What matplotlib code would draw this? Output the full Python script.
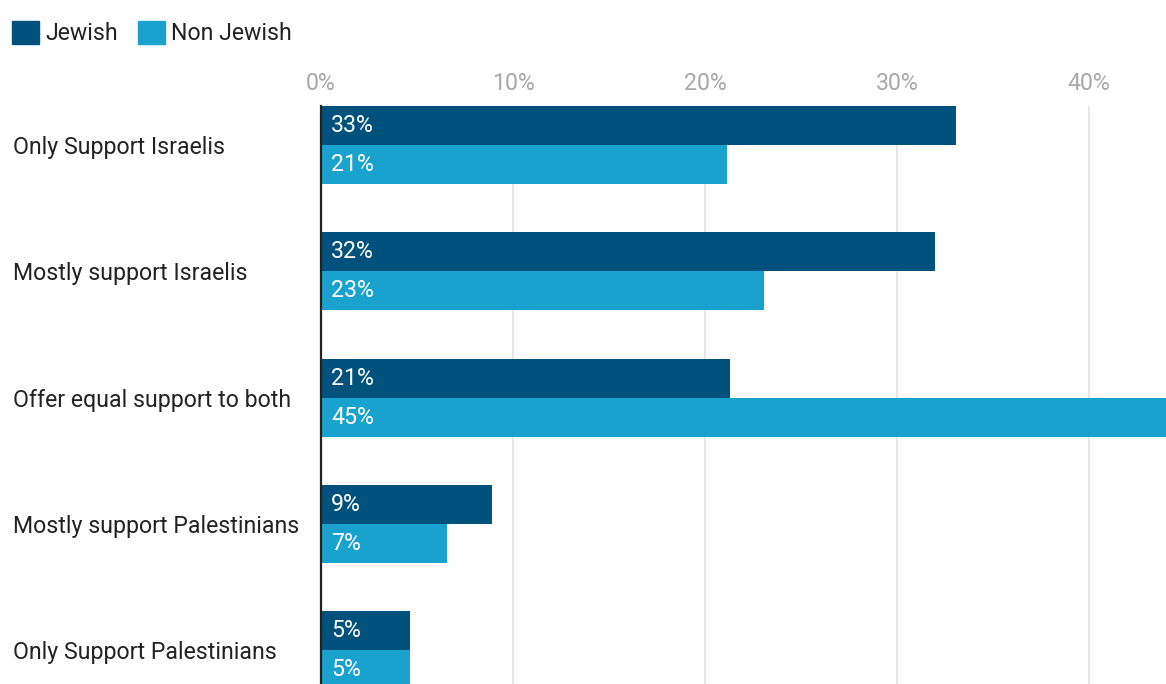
import matplotlib
matplotlib.use("Agg")
import matplotlib.pyplot as plt
from matplotlib.patches import Patch
import numpy as np

plt.rcParams['font.family'] = ['Roboto', 'DejaVu Sans']

categories = ["Only Support Israelis", "Mostly support Israelis", "Offer equal support to both",
              "Mostly support Palestinians", "Only Support Palestinians"]
series_names = ["Jewish", "Non Jewish"]
jewish = [33.07, 31.98, 21.32, 8.89, 4.62]
non_jewish = [21.15, 23.07, 45.0, 6.55, 4.62]
jewish_labels = ["33%", "32%", "21%", "9%", "5%"]
non_jewish_labels = ["21%", "23%", "45%", "7%", "5%"]
x_ticks = [0, 10, 20, 30, 40]
x_tick_labels = ["0%", "10%", "20%", "30%", "40%"]

c_dark = "#00527C"
c_light = "#1AA2CF"
FS = 16.7

W, H = 1166, 684
fig = plt.figure(figsize=(W / 100, H / 100), dpi=100)
ax_left, ax_right, ax_top, ax_bottom = 321, 1166, 106, 684
ax = fig.add_axes([ax_left / W, 1 - ax_bottom / H, (ax_right - ax_left) / W, (ax_bottom - ax_top) / H])

bh = 0.309
y = np.arange(len(categories))
ax.barh(y - bh / 2, jewish, height=bh, color=c_dark, edgecolor=c_dark, linewidth=0, zorder=3)
ax.barh(y + bh / 2, non_jewish, height=bh, color=c_light, edgecolor=c_light, linewidth=0, zorder=3)

ax.set_xlim(0, (ax_right - ax_left) / 19.2)
ax.set_ylim(4.268, -bh)

for i in range(len(categories)):
    ax.annotate(jewish_labels[i], xy=(0, y[i] - bh / 2), xytext=(7.2, 0), textcoords='offset points',
                ha='left', va='center', color='white', fontsize=FS, zorder=4)
    ax.annotate(non_jewish_labels[i], xy=(0, y[i] + bh / 2), xytext=(7.2, 0), textcoords='offset points',
                ha='left', va='center', color='white', fontsize=FS, zorder=4)

ax.xaxis.tick_top()
ax.set_xticks(x_ticks)
ax.set_xticklabels(x_tick_labels, color="#A8A8A8", fontsize=FS)
ax.tick_params(axis='x', length=0, pad=8)
ax.grid(axis='x', color="#E4E4E4", linewidth=1.3, zorder=0)

ax.set_yticks(y)
ax.set_yticklabels(categories, fontsize=FS, color="#222222", ha='left')
ax.tick_params(axis='y', length=0, pad=(ax_left - 13) * 0.72)

for s in ['top', 'right', 'bottom']:
    ax.spines[s].set_visible(False)
ax.spines['left'].set_color("#222222")
ax.spines['left'].set_linewidth(1.6)
ax.spines['left'].set_zorder(5)

handles = [Patch(facecolor=c_dark, edgecolor=c_dark), Patch(facecolor=c_light, edgecolor=c_light)]
fig.legend(handles, series_names, loc='upper left', bbox_to_anchor=(-9 / W, 1 - 0 / H), ncol=2,
           frameon=False, fontsize=FS, handlelength=1.15, handleheight=1.15, handletextpad=0.3,
           columnspacing=0.85, labelcolor="#222222")

fig.savefig("out.png", dpi=100)
